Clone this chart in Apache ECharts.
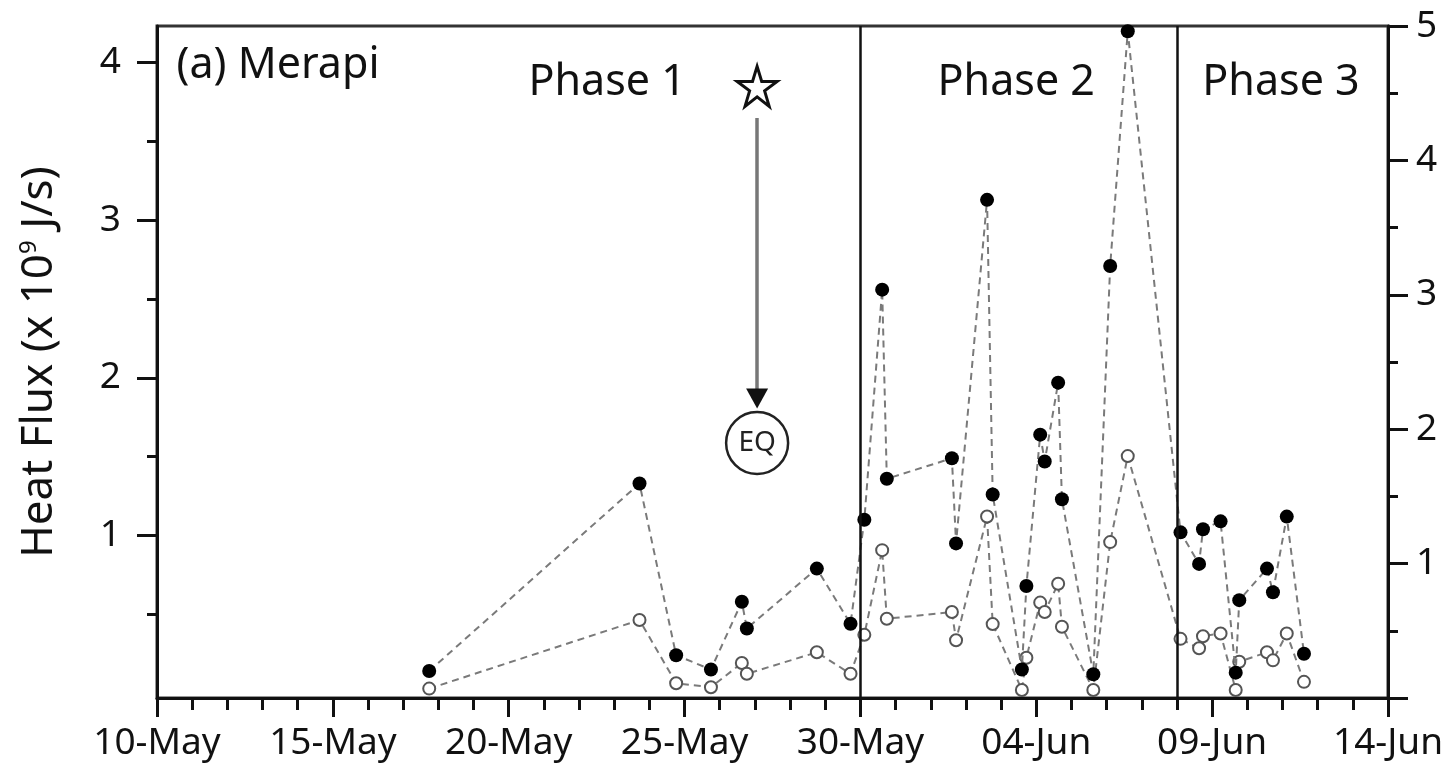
<!DOCTYPE html>
<html>
<head>
<meta charset="utf-8">
<script src="https://cdn.jsdelivr.net/npm/echarts@6/dist/echarts.min.js"></script>
<style>
  html,body{margin:0;padding:0;background:#fff;}
  #chart{width:1448px;height:770px;}
</style>
</head>
<body>
<div id="chart"></div>
<script>
// observation times (2006, local)
const times = ['2006-05-17 17:45','2006-05-23 17:15','2006-05-24 18:15','2006-05-25 18:00','2006-05-26 15:05','2006-05-26 18:30',
  '2006-05-28 18:15','2006-05-29 17:15','2006-05-30 02:40','2006-05-30 14:50','2006-05-30 18:00','2006-06-01 14:25',
  '2006-06-01 17:15','2006-06-02 14:25','2006-06-02 18:15','2006-06-03 14:10','2006-06-03 17:15','2006-06-04 02:40',
  '2006-06-04 05:45','2006-06-04 14:55','2006-06-04 17:30','2006-06-05 14:55','2006-06-06 02:25','2006-06-06 14:25',
  '2006-06-08 02:25','2006-06-08 15:05','2006-06-08 17:45','2006-06-09 05:45','2006-06-09 16:05','2006-06-09 18:30',
  '2006-06-10 13:25','2006-06-10 17:30','2006-06-11 02:55','2006-06-11 14:40'];
// filled circles, left axis (x 10^9 J/s)
const heatFlux = [0.14,1.33,0.24,0.15,0.58,0.41,0.79,0.44,1.10,2.56,1.36,1.49,0.95,3.13,1.26,0.15,0.68,1.64,1.47,1.97,
  1.23,0.12,2.71,4.20,1.02,0.82,1.04,1.09,0.13,0.59,0.79,0.64,1.12,0.25];
// open circles, right axis
const openVals = [0.07,0.58,0.11,0.08,0.26,0.18,0.34,0.18,0.47,1.10,0.59,0.64,0.43,1.35,0.55,0.06,0.30,0.71,0.64,0.85,
  0.53,0.06,1.16,1.80,0.44,0.37,0.46,0.48,0.06,0.27,0.34,0.28,0.48,0.12];

const leftTicks = [1,2,3,4];
const leftMinor = [0.5,1.5,2.5,3.5];
const phaseStarts = ['2006-05-30 00:00','2006-06-08 00:00'];
const phaseLabels = ['Phase 1','Phase 2','Phase 3'];
const phaseLabelTimes = ['2006-05-22 19:10','2006-06-03 10:20','2006-06-10 23:00'];
const eqTime = '2006-05-27 01:30';
const months = ['Jan','Feb','Mar','Apr','May','Jun','Jul','Aug','Sep','Oct','Nov','Dec'];

// day of year (fractional)
function doy(s){
  const [d, t] = s.split(' ');
  const [y, m, dd] = d.split('-').map(Number);
  const [h, mi] = t.split(':').map(Number);
  return (Date.UTC(y, m - 1, dd, h, mi) - Date.UTC(y, 0, 1)) / 86400000 + 1;
}
function doyLabel(v){
  const dt = new Date(Date.UTC(2006, 0, 1) + (v - 1) * 86400000);
  const d = dt.getUTCDate();
  return (d < 10 ? '0' + d : d) + '-' + months[dt.getUTCMonth()];
}

const FONT = 'Noto Sans';
const eqX = doy(eqTime);
const star = 'path://M50,2 L61,37 L98,37 L68,59 L79,95 L50,73 L21,95 L32,59 L2,37 L39,37 Z';

const chart = echarts.init(document.getElementById('chart'));
chart.setOption({
  animation: false,
  textStyle: {fontFamily: FONT, color: '#111'},
  grid: {left: 157, right: 60, top: 26, bottom: 72, show: true, borderColor: '#333', borderWidth: 3},
  xAxis: {
    type: 'value', min: 130, max: 165, interval: 5,
    axisLine: {onZero: false, lineStyle: {color: '#111', width: 3}},
    axisTick: {length: 19, lineStyle: {color: '#111', width: 3}},
    minorTick: {show: true, splitNumber: 5, length: 12, lineStyle: {color: '#111', width: 3}},
    splitLine: {show: false},
    axisLabel: {fontSize: 37, color: '#111', margin: 27, formatter: doyLabel}
  },
  yAxis: [{
    type: 'value', min: -0.031, max: 4.233, position: 'left',
    name: 'Heat Flux (x 10{s|9} J/s)', nameLocation: 'middle', nameGap: 96,
    nameTextStyle: {fontSize: 44, color: '#111', rich: {s: {fontSize: 24, verticalAlign: 'top', color: '#111'}}},
    axisLine: {show: true, onZero: false, lineStyle: {color: '#111', width: 3}},
    axisTick: {show: true, customValues: leftTicks, length: 20, lineStyle: {color: '#111', width: 3}},
    axisLabel: {customValues: leftTicks, fontSize: 37, color: '#111', margin: 36},
    splitLine: {show: false}
  }, {
    type: 'value', min: -0.031, max: 4.233, position: 'left',
    axisLine: {show: false, onZero: false},
    axisTick: {show: true, customValues: leftMinor, length: 10, lineStyle: {color: '#111', width: 3}},
    axisLabel: {show: false},
    splitLine: {show: false}
  }, {
    type: 'value', min: 0, max: 5, interval: 1, position: 'right',
    axisLine: {show: true, onZero: false, lineStyle: {color: '#111', width: 3}},
    axisTick: {show: true, length: 20, lineStyle: {color: '#111', width: 3}},
    minorTick: {show: true, splitNumber: 2, length: 10, lineStyle: {color: '#111', width: 3}},
    axisLabel: {fontSize: 37, color: '#111', margin: 28, formatter: v => v === 0 ? '' : v},
    splitLine: {show: false}
  }],
  series: [{
    name: 'open', type: 'line', yAxisIndex: 2,
    data: times.map((t, i) => [doy(t), openVals[i]]),
    symbol: 'emptyCircle', symbolSize: 12,
    itemStyle: {color: '#555', borderColor: '#555', borderWidth: 1.8},
    lineStyle: {color: '#7a7a7a', width: 2, type: [7, 5]},
    z: 3
  }, {
    name: 'heat', type: 'line', yAxisIndex: 0,
    data: times.map((t, i) => [doy(t), heatFlux[i]]),
    symbol: 'circle', symbolSize: 14,
    itemStyle: {color: '#000'},
    lineStyle: {color: '#7a7a7a', width: 2, type: [7, 5]},
    z: 4,
    markLine: {
      silent: true, symbol: ['none', 'none'],
      label: {show: false},
      data: [
        {xAxis: doy(phaseStarts[0]), lineStyle: {color: '#111', width: 2.5, type: 'solid'}},
        {xAxis: doy(phaseStarts[1]), lineStyle: {color: '#111', width: 2.5, type: 'solid'}},
        [{coord: [eqX, 3.65], lineStyle: {color: '#777', width: 3.5, type: 'solid'}}, {coord: [eqX, 1.93]}]
      ]
    },
    markPoint: {
      silent: true,
      data: [
        {coord: [doy('2006-05-10 13:10'), 3.98], symbolSize: 1, itemStyle: {color: 'transparent'},
          label: {show: true, position: 'right', distance: 0, formatter: '(a) Merapi', fontSize: 43, color: '#111'}},
        ...phaseLabels.map((p, i) => ({coord: [doy(phaseLabelTimes[i]), 3.87], symbolSize: 1, itemStyle: {color: 'transparent'},
          label: {show: true, position: 'inside', formatter: p, fontSize: 43, color: '#111'}})),
        {coord: [eqX, 3.85], symbol: star, symbolSize: 40, itemStyle: {color: '#fff', borderColor: '#111', borderWidth: 3},
          label: {show: false}},
        {coord: [eqX, 1.87], symbol: 'triangle', symbolRotate: 180, symbolSize: [22, 20], itemStyle: {color: '#111'},
          label: {show: false}},
        {coord: [eqX, 1.587], symbol: 'circle', symbolSize: 62, itemStyle: {color: '#fff', borderColor: '#222', borderWidth: 2.5},
          label: {show: true, position: 'inside', formatter: 'EQ', fontSize: 28, color: '#222'}}
      ]
    }
  }]
});
</script>
</body>
</html>
